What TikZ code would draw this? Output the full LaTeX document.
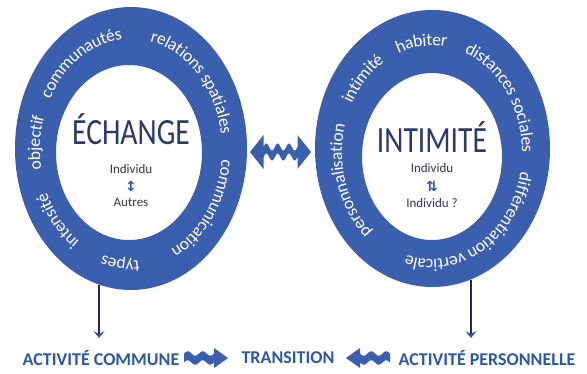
\documentclass[tikz,border=0pt]{standalone}
\usepackage{fontspec}
\setmainfont{Carlito}
\newfontfamily\symfont{DejaVu Sans}
\usetikzlibrary{decorations.text,arrows.meta}
\definecolor{ringblue}{RGB}{59,95,175}
\definecolor{titleblue}{RGB}{40,58,112}
\definecolor{labelblue}{RGB}{45,88,166}
\definecolor{darkline}{RGB}{35,45,75}
\definecolor{smalltext}{RGB}{45,55,85}
\newcommand{\ringfont}{\fontsize{17.5}{17.5}\selectfont}
\tikzset{
  ringtxt/.style={decorate,decoration={text along path,text={|\ringfont|#1},
      text align=center,text color=white,raise=-4pt}},
  titletxt/.style={font=\fontsize{37}{37}\selectfont,text=titleblue,xscale=0.8,inner sep=0pt,anchor=base},
  smalltxt/.style={font=\fontsize{13}{13}\selectfont,text=smalltext,inner sep=0pt},
  symtxt/.style={font=\symfont\bfseries\fontsize{14}{14}\selectfont,text=labelblue,inner sep=0pt},
  bottomtxt/.style={font=\bfseries\fontsize{18}{18}\selectfont,text=labelblue,inner sep=0pt},
  conn/.style={darkline,line width=1.1pt,-{Stealth[length=7pt,width=11pt,inset=3pt,color=labelblue]}},
  ringfill/.style={fill=ringblue,even odd rule}
}
\begin{document}
\begin{tikzpicture}[x=1pt,y=1pt]
\useasboundingbox (0,0) rectangle (587,373);
\fill[white] (0,0) rectangle (587,373);

% rings
\path[ringfill] (131,224.5) ellipse [x radius=116,y radius=141.5]
                (129,220.5) ellipse [x radius=73,y radius=87.5];
\path[ringfill] (432.5,224.5) ellipse [x radius=117.5,y radius=138.5]
                (432,216.5) ellipse [x radius=70,y radius=83.5];

% left ring texts (clockwise, centred on the given angle)
\path[ringtxt={objectif}] (131,223) ++(221:95 and 115) arc[start angle=221,end angle=131,x radius=95,y radius=115];
\path[ringtxt={communautés}] (131,223) ++(177:95 and 115) arc[start angle=177,end angle=67,x radius=95,y radius=115];
\path[ringtxt={relations spatiales}] (131,223) ++(116:95 and 115) arc[start angle=116,end angle=-24,x radius=95,y radius=115];
\path[ringtxt={communication}] (131,223) ++(23:95 and 115) arc[start angle=23,end angle=-97,x radius=95,y radius=115];
\path[ringtxt={types}] (131,223) ++(-56:95 and 115) arc[start angle=-56,end angle=-136,x radius=95,y radius=115];
\path[ringtxt={intensité}] (131,223) ++(266:95 and 115) arc[start angle=266,end angle=176,x radius=95,y radius=115];

% right ring texts
\path[ringtxt={personnalisation}] (432,220.5) ++(263:94 and 111) arc[start angle=263,end angle=133,x radius=94,y radius=111];
\path[ringtxt={intimité}] (432,220.5) ++(176:94 and 111) arc[start angle=176,end angle=96,x radius=94,y radius=111];
\path[ringtxt={habiter}] (432,220.5) ++(136:94 and 111) arc[start angle=136,end angle=56,x radius=94,y radius=111];
\path[ringtxt={distances sociales}] (432,220.5) ++(107:94 and 111) arc[start angle=107,end angle=-33,x radius=94,y radius=111];
\path[ringtxt={différentiation verticale}] (432,220.5) ++(15:94 and 111) arc[start angle=15,end angle=-135,x radius=94,y radius=111];

% titles and centre texts
\node[titletxt] (echange) at (131,229) {ÉCHANGE};
\node[smalltxt] (indL) at (131,204) {Individu};
\node[symtxt] (symL) at (131,187) {↕};
\node[smalltxt] (autres) at (131,171) {Autres};

\node[titletxt] (intimite) at (432,221) {INTIMITÉ};
\node[smalltxt] (indR) at (432,205) {Individu};
\node[symtxt] (symR) at (432,187) {⇅};
\node[smalltxt] (indR2) at (432,170) {Individu ?};

% central double wavy arrow
\begin{scope}[shift={(280.5,221)}]
\fill[ringblue] (-30.5,0) -- (-17,17) -- (-17,5)
  -- plot[domain=-17:17,samples=60] (\x,{5+3.5*sin(31.765*(\x+17))})
  -- (17,17) -- (30.5,0) -- (17,-17) -- (17,-5)
  -- plot[domain=17:-17,samples=60] (\x,{-5+3.5*sin(31.765*(\x+17))})
  -- (-17,-17) -- cycle;
\end{scope}

% bottom labels
\node[bottomtxt] (actcom) at (101,15) {ACTIVITÉ COMMUNE};
\node[bottomtxt] (trans) at (288,15) {TRANSITION};
\node[bottomtxt] (actpers) at (487,15) {ACTIVITÉ PERSONNELLE};

% bottom wavy arrows
\begin{scope}[shift={(184,15)}]
\fill[ringblue] plot[domain=0:30,samples=40] (\x,{4.5+2.2*sin(24*\x)})
  -- (30,10) -- (44,0) -- (30,-10)
  -- plot[domain=30:0,samples=40] (\x,{-4.5+2.2*sin(24*\x)}) -- cycle;
\end{scope}
\begin{scope}[shift={(390,15)},xscale=-1]
\fill[ringblue] plot[domain=0:30,samples=40] (\x,{4.5+2.2*sin(24*\x)})
  -- (30,10) -- (44,0) -- (30,-10)
  -- plot[domain=30:0,samples=40] (\x,{-4.5+2.2*sin(24*\x)}) -- cycle;
\end{scope}

% vertical arrows
\coordinate (Lbot) at (99,88);
\coordinate (Ltip) at (99,35);
\coordinate (Rbot) at (471,93);
\coordinate (Rtip) at (471,35);
\draw[conn] (Lbot) -- (Ltip);
\draw[conn] (Rbot) -- (Rtip);
\end{tikzpicture}
\end{document}
